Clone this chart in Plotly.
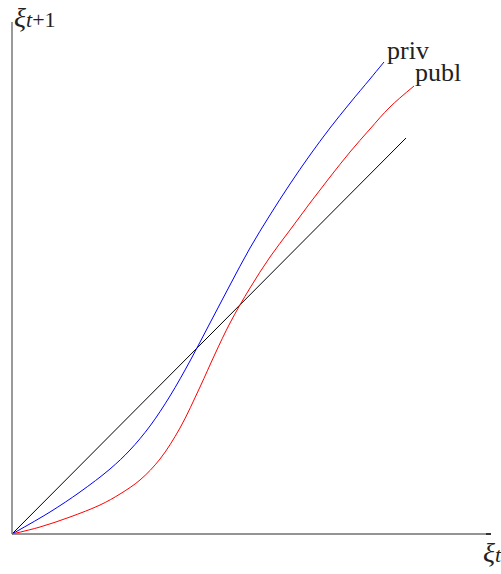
import plotly.graph_objects as go

# data (x = xi_t, y = xi_{t+1}), origin at 0
diag_x = [0, 394]
diag_y = [0, 396]

priv_x = [0, 38, 68, 98, 118, 138, 158, 178, 198, 218, 238, 258, 278, 298, 318, 338, 358, 372]
priv_y = [0, 22, 42, 65, 84, 108, 138, 173, 211, 249, 286, 319, 350, 379, 406, 431, 455, 472]

publ_x = [0, 28, 58, 88, 108, 128, 148, 168, 188, 203, 218, 238, 258, 278, 298, 318, 338, 358, 378, 402]
publ_y = [0, 7, 17, 29, 40, 54, 75, 106, 147, 180, 211, 246, 277, 304, 331, 357, 382, 405, 427, 448]

labels = ["priv", "publ"]

SERIF = "Liberation Serif"

fig = go.Figure()
fig.add_trace(go.Scatter(x=diag_x, y=diag_y, mode="lines",
                         line=dict(color="black", width=1), hoverinfo="skip"))
fig.add_trace(go.Scatter(x=priv_x, y=priv_y, mode="lines",
                         line=dict(color="#0000ff", width=1, shape="spline", smoothing=1),
                         name=labels[0]))
fig.add_trace(go.Scatter(x=publ_x, y=publ_y, mode="lines",
                         line=dict(color="#ff0000", width=1, shape="spline", smoothing=1),
                         name=labels[1]))

# axis lines
fig.add_shape(type="line", x0=0, x1=0, y0=0, y1=512, xref="x", yref="y",
              line=dict(color="#707070", width=1.4))
fig.add_shape(type="line", x0=0, x1=474, y0=0, y1=0, xref="x", yref="y",
              line=dict(color="#707070", width=1.4))
fig.add_shape(type="line", x0=474, x1=479, y0=0, y1=0, xref="x", yref="y",
              line=dict(color="black", width=1.6))

# curve labels
fig.add_annotation(x=priv_x[-1] + 1, y=484, text=labels[0], showarrow=False,
                   xanchor="left", yanchor="middle",
                   font=dict(family=SERIF, size=26, color="#222"))
fig.add_annotation(x=publ_x[-1] - 1, y=462, text=labels[1], showarrow=False,
                   xanchor="left", yanchor="middle",
                   font=dict(family=SERIF, size=26, color="#222"))

# axis titles
fig.add_annotation(x=0, y=517, text="<i>ξ</i>", showarrow=False,
                   xanchor="left", yanchor="middle",
                   font=dict(family=SERIF, size=28, color="#222"))
fig.add_annotation(x=12, y=515, text="<i>t</i>+1", showarrow=False,
                   xanchor="left", yanchor="middle",
                   font=dict(family=SERIF, size=22, color="#222"))
fig.add_annotation(x=469, y=-18, text="<i>ξ</i>", showarrow=False,
                   xanchor="left", yanchor="middle",
                   font=dict(family=SERIF, size=28, color="#222"))
fig.add_annotation(x=481, y=-20, text="<i>t</i>", showarrow=False,
                   xanchor="left", yanchor="middle",
                   font=dict(family=SERIF, size=22, color="#222"))

fig.update_layout(
    width=501, height=574,
    margin=dict(l=0, r=0, t=0, b=0),
    paper_bgcolor="white", plot_bgcolor="white",
    showlegend=False,
    xaxis=dict(range=[-12, 489], visible=False, fixedrange=True),
    yaxis=dict(range=[-40, 534], visible=False, fixedrange=True),
)

fig.write_html("out.html")
